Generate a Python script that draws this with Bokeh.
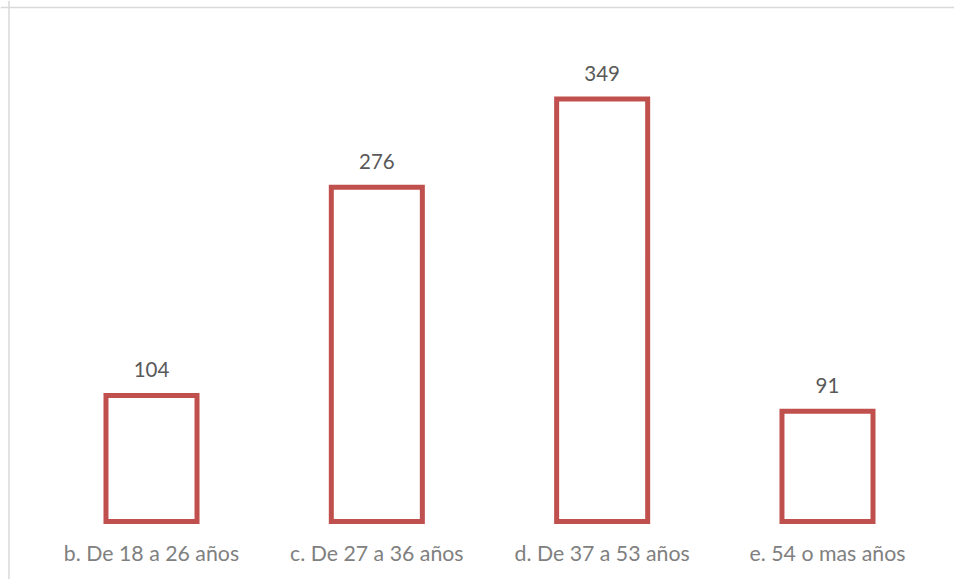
from bokeh.plotting import figure
from bokeh.models import ColumnDataSource, Range1d, Span
from bokeh.core.properties import value
from bokeh.embed import file_html
from bokeh.resources import INLINE

categories = ["b. De 18 a 26 años", "c. De 27 a 36 años", "d. De 37 a 53 años", "e. 54 o mas años"]
counts = [104, 276, 349, 91]
positions = [0, 1, 2, 3]
value_labels = [str(c) for c in counts]

W, H = 954, 579
sx = 225.33          # px per category
x0_px = 151.0        # pixel of first category center
base_px = 521.0      # pixel of y=0
ky = 1.2106          # px per unit

x_start = -x0_px / sx
x_end = x_start + W / sx
y_end = base_px / ky
y_start = -(H - base_px) / ky

src = ColumnDataSource(dict(x=positions, top=counts, cat=categories, lab=value_labels,
                            zero=[0] * len(counts)))

p = figure(width=W, height=H, output_backend="svg", toolbar_location=None,
           x_axis_type=None, y_axis_type=None,
           x_range=Range1d(x_start, x_end), y_range=Range1d(y_start, y_end),
           min_border=0, min_border_left=0, min_border_right=0,
           min_border_top=0, min_border_bottom=0)
p.outline_line_color = None
p.grid.visible = False
p.background_fill_color = "white"
p.border_fill_color = "white"

p.vbar(x="x", top="top", bottom=0, width=0.404, source=src,
       fill_color=None, line_color="#C0504D", line_width=5, line_join="miter")

p.text(x="x", y="top", text="lab", source=src, text_align="center",
       text_baseline="middle", y_offset=-26, text_font=value("Lato"),
       text_font_size="20.5px", text_color="#595959")

p.text(x="x", y="zero", text="cat", source=src, text_align="center",
       text_baseline="middle", y_offset=31, text_font=value("Lato"),
       text_font_size="21.3px", text_color="#808080")

# chart border (left and top edges visible)
p.add_layout(Span(location=x_start + 8.5 / sx, dimension="height",
                  line_color="#D9D9D9", line_width=1.5))
p.add_layout(Span(location=y_end - 7.0 / ky, dimension="width",
                  line_color="#D9D9D9", line_width=1.5))

open("out.html", "w").write(file_html(p, INLINE))
